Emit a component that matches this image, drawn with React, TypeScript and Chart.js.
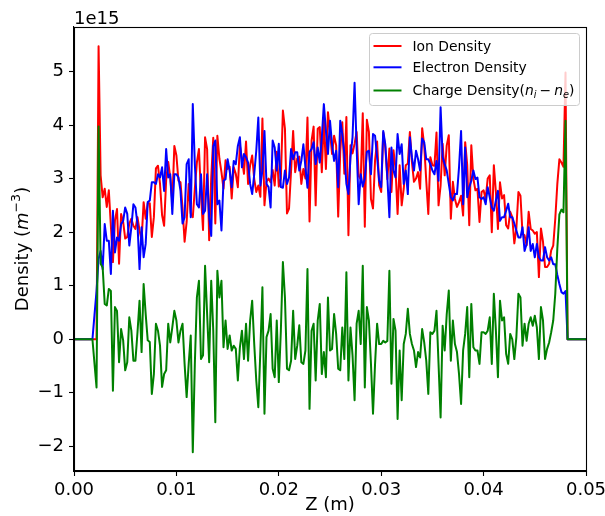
import React, { useEffect, useRef } from "react";
import { Chart, registerables } from "chart.js";

Chart.register(...registerables);

// Axial grid: cell spacing along Z (m), from Z = 0 to Z = 0.05
const Z_STEP = 0.0002;

// Densities in units of 1e15 m^-3, one value per grid node
const ION_DENSITY = [
  0, 0, 0, 0, 0, 0, 0, 0, 0, 0,
  0, 0, 5.47, 3.06, 2.65, 2.81, 2.47, 2.78, 2.12, 1.44,
  2.22, 2.43, 1.41, 2.34, 2.19, 1.88, 1.91, 2.16, 2.25, 2.12,
  2.06, 2.28, 2.03, 1.85, 2.56, 2.25, 2.54, 2.54, 1.91, 2.28,
  3.19, 3.24, 2.90, 2.32, 2.12, 2.97, 3.31, 3.02, 2.56, 3.61,
  3.43, 2.96, 2.93, 2.45, 1.82, 2.19, 2.90, 2.35, 2.28, 2.81,
  3.30, 3.55, 2.71, 2.04, 3.77, 3.55, 1.85, 3.02, 3.76, 2.16,
  3.80, 3.37, 3.12, 2.81, 3.34, 3.18, 3.22, 2.63, 3.21, 3.09,
  2.84, 3.62, 3.37, 3.09, 3.69, 2.90, 3.25, 3.43, 2.99, 2.75,
  2.87, 2.66, 4.12, 2.50, 2.94, 3.00, 2.93, 3.16, 2.87, 3.50,
  2.85, 3.00, 4.27, 3.93, 2.35, 2.44, 3.15, 3.89, 3.12, 3.37,
  3.41, 2.90, 3.18, 3.00, 4.14, 2.20, 3.71, 3.97, 2.50, 3.93,
  3.96, 3.12, 4.15, 3.18, 4.24, 3.87, 3.46, 3.80, 3.62, 2.29,
  3.50, 4.05, 3.09, 4.15, 1.94, 3.62, 3.47, 3.65, 3.87, 3.05,
  2.99, 4.22, 2.10, 4.10, 3.87, 2.62, 2.44, 3.34, 3.69, 2.87,
  2.75, 3.86, 3.58, 2.99, 3.56, 2.75, 3.53, 3.18, 2.34, 3.25,
  2.50, 2.81, 3.25, 3.28, 3.87, 3.31, 2.94, 3.00, 3.12, 2.81,
  3.94, 3.62, 2.96, 2.34, 3.40, 3.25, 3.24, 3.86, 2.50, 2.87,
  3.65, 3.06, 3.62, 3.81, 2.25, 2.94, 2.62, 2.47, 2.56, 2.68,
  2.31, 3.68, 3.25, 2.13, 3.62, 3.00, 2.78, 2.81, 2.19, 2.75,
  2.78, 2.62, 3.00, 3.06, 2.00, 3.25, 2.75, 2.06, 2.93, 2.63,
  2.69, 2.13, 2.07, 2.38, 2.28, 1.79, 2.07, 2.75, 2.68, 1.97,
  1.94, 1.75, 2.38, 2.06, 2.03, 1.97, 2.00, 1.16, 2.07, 1.82,
  1.35, 1.35, 1.41, 1.66, 1.75, 2.25, 2.90, 3.36, 3.30, 3.22,
  4.98, 0, 0, 0, 0, 0, 0, 0, 0, 0, 0,
];

const ELECTRON_DENSITY = [
  0, 0, 0, 0, 0, 0, 0, 0, 0, 0,
  0.45, 0.90, 1.50, 1.65, 1.31, 2.15, 1.84, 1.84, 1.22, 2.40,
  1.62, 1.90, 1.84, 2.15, 2.21, 2.46, 2.34, 1.75, 2.09, 2.52,
  2.46, 2.15, 1.31, 2.09, 1.53, 1.78, 2.56, 2.59, 2.93, 2.93,
  2.90, 3.08, 3.02, 3.21, 2.77, 3.55, 3.02, 3.08, 2.34, 3.08,
  3.08, 3.02, 2.77, 2.16, 2.28, 3.27, 3.36, 2.28, 4.39, 3.27,
  2.52, 2.46, 3.08, 2.34, 2.40, 3.08, 2.28, 1.93, 3.60, 3.71,
  2.52, 2.59, 2.03, 2.96, 2.99, 3.36, 3.15, 2.84, 3.33, 3.27,
  3.61, 3.77, 3.21, 3.46, 3.40, 3.30, 2.90, 2.71, 3.08, 3.52,
  4.14, 2.87, 3.15, 3.89, 2.90, 2.84, 2.46, 3.71, 3.58, 3.15,
  3.65, 2.84, 2.83, 3.15, 2.90, 3.02, 3.55, 3.36, 3.49, 3.49,
  3.15, 3.33, 3.64, 3.21, 2.83, 3.50, 3.55, 3.68, 3.27, 3.58,
  3.30, 3.77, 4.39, 3.89, 3.46, 4.08, 3.64, 3.33, 3.52, 2.84,
  4.08, 3.83, 3.46, 2.90, 2.71, 3.40, 3.77, 4.79, 3.58, 2.52,
  3.08, 2.85, 3.00, 3.50, 3.52, 3.08, 3.83, 3.80, 3.40, 2.96,
  2.84, 3.89, 3.64, 3.02, 2.28, 3.58, 3.15, 3.02, 3.83, 3.46,
  3.64, 2.90, 3.15, 2.71, 3.77, 3.40, 3.15, 3.52, 3.36, 3.15,
  3.75, 3.68, 3.36, 3.36, 3.27, 3.15, 3.08, 3.33, 2.96, 4.33,
  3.40, 3.27, 3.15, 2.90, 2.65, 2.59, 2.71, 2.71, 3.21, 3.89,
  2.52, 3.58, 2.65, 2.84, 2.96, 3.15, 2.99, 3.02, 2.65, 2.62,
  2.65, 2.52, 2.84, 2.65, 2.46, 2.40, 2.59, 2.77, 2.21, 2.28,
  2.28, 2.40, 2.53, 2.28, 2.28, 2.16, 2.03, 1.90, 1.90, 2.09,
  1.65, 1.78, 2.09, 1.65, 1.78, 1.53, 1.78, 1.53, 1.47, 1.47,
  1.72, 1.53, 1.47, 1.53, 1.40, 1.40, 1.20, 1.03, 0.88, 0.85,
  0.90, 0, 0, 0, 0, 0, 0, 0, 0, 0, 0,
];

const CHARGE_DENSITY = [
  0, 0, 0, 0, 0, 0, 0, 0, 0, 0,
  -0.45, -0.90, 3.97, 1.41, 1.34, 0.66, 0.63, 0.94, 0.90, -0.96,
  0.60, 0.53, -0.43, 0.19, -0.02, -0.58, -0.43, 0.41, 0.16, -0.40,
  -0.40, 0.13, 0.72, -0.24, 1.03, 0.47, -0.02, -0.05, -1.02, -0.65,
  0.29, 0.16, -0.12, -0.89, -0.65, -0.58, 0.29, -0.06, 0.22, 0.53,
  0.35, -0.06, 0.16, 0.29, -0.46, -1.08, -0.46, 0.07, -2.11, -0.46,
  0.78, 1.09, -0.37, -0.30, 1.37, 0.47, -0.43, 1.09, 0.16, -1.55,
  1.28, 0.78, 1.09, -0.15, 0.35, -0.18, 0.07, -0.21, -0.12, -0.18,
  -0.77, -0.15, 0.16, -0.37, 0.29, -0.40, 0.35, 0.72, -0.09, -0.77,
  -1.27, -0.21, 0.97, -1.39, 0.04, 0.16, 0.47, -0.55, -0.71, 0.35,
  -0.80, 0.16, 1.44, 0.78, -0.55, -0.58, -0.40, 0.53, -0.37, -0.12,
  0.26, -0.43, -0.46, -0.21, 1.31, -1.30, 0.16, 0.29, -0.77, 0.35,
  0.66, -0.65, -0.24, -0.71, 0.78, -0.21, -0.18, 0.47, 0.10, -0.55,
  -0.58, 0.22, -0.37, 1.25, -0.77, 0.22, -0.30, -1.14, 0.29, 0.53,
  -0.09, 1.37, -0.90, 0.60, 0.35, -0.46, -1.39, -0.46, 0.29, -0.09,
  -0.09, -0.03, -0.06, -0.03, 1.28, -0.83, 0.38, 0.16, -1.49, -0.21,
  -1.14, -0.09, 0.10, 0.57, 0.10, -0.09, -0.21, -0.52, -0.24, -0.34,
  0.19, -0.06, -0.40, -1.02, 0.13, 0.10, 0.16, 0.53, -0.46, -1.46,
  0.25, -0.21, 0.47, 0.91, -0.40, 0.35, -0.09, -0.24, -0.65, -1.21,
  -0.21, 0.10, 0.60, -0.71, 0.66, -0.15, -0.21, -0.21, -0.46, 0.13,
  0.13, 0.10, 0.16, 0.41, -0.46, 0.85, 0.16, -0.71, 0.72, 0.35,
  0.41, -0.27, -0.46, 0.10, 0.00, -0.37, 0.04, 0.85, 0.78, -0.12,
  0.29, -0.03, 0.29, 0.41, 0.25, 0.44, 0.22, -0.37, 0.60, 0.35,
  -0.37, -0.18, -0.06, 0.13, 0.35, 0.85, 1.70, 2.33, 2.42, 2.37,
  4.08, 0, 0, 0, 0, 0, 0, 0, 0, 0, 0,
];

const X_TICKS = [0, 0.01, 0.02, 0.03, 0.04, 0.05];
const Y_TICKS = [-2, -1, 0, 1, 2, 3, 4, 5];
const SERIES_LABELS = ["Ion Density", "Electron Density", "Charge Density"];
const SERIES_COLORS = ["#ff0000", "#0000ff", "#008000"];

const FONT = '"DejaVu Sans", sans-serif';
const W = 605;
const H = 516;

type Part = { t: string; italic?: boolean; scale?: number; dy?: number; gap?: number };

function setFont(ctx: CanvasRenderingContext2D, p: Part, size: number) {
  ctx.font = `${p.italic ? "italic " : ""}${size * (p.scale ?? 1)}px ${FONT}`;
}

function richWidth(ctx: CanvasRenderingContext2D, parts: Part[], size: number) {
  let w = 0;
  for (const p of parts) {
    setFont(ctx, p, size);
    w += ctx.measureText(p.t).width + (p.gap ?? 0) * size;
  }
  return w;
}

function drawRich(ctx: CanvasRenderingContext2D, parts: Part[], x: number, y: number, size: number) {
  let cx = x;
  for (const p of parts) {
    setFont(ctx, p, size);
    ctx.fillText(p.t, cx, y + (p.dy ?? 0) * size);
    cx += ctx.measureText(p.t).width + (p.gap ?? 0) * size;
  }
}

const decorPlugin = {
  id: "decor",
  afterDatasetsDraw(chart: any) {
    const { ctx, chartArea: a } = chart;
    ctx.save();
    ctx.strokeStyle = "#000";
    ctx.lineWidth = 1.1;
    ctx.strokeRect(Math.round(a.left) + 0.5, Math.round(a.top) + 0.5, Math.round(a.right - a.left), Math.round(a.bottom - a.top));
    ctx.restore();
  },
  afterDraw(chart: any) {
    const { ctx, chartArea: a } = chart;
    ctx.save();
    ctx.fillStyle = "#000";
    ctx.textBaseline = "alphabetic";
    ctx.textAlign = "left";

    // offset text
    ctx.font = `18px ${FONT}`;
    ctx.fillText("1e15", a.left, 24);

    // x label
    const xl: Part[] = [{ t: "Z (m)" }];
    const xw = richWidth(ctx, xl, 18);
    drawRich(ctx, xl, (a.left + a.right) / 2 - xw / 2, 510, 18);

    // y label (rotated)
    const yl: Part[] = [
      { t: "Density (" },
      { t: "m", italic: true },
      { t: "\u22123", scale: 0.7, dy: -0.42 },
      { t: ")" },
    ];
    const yw = richWidth(ctx, yl, 18);
    ctx.save();
    ctx.translate(28, (a.top + a.bottom) / 2);
    ctx.rotate(-Math.PI / 2);
    drawRich(ctx, yl, -yw / 2, 0, 18);
    ctx.restore();

    // legend
    const fs = 13.9;
    const bx = 369.5, by = 33.5, bw = 210, bh = 72, r = 3;
    ctx.beginPath();
    ctx.moveTo(bx + r, by);
    ctx.lineTo(bx + bw - r, by);
    ctx.arcTo(bx + bw, by, bx + bw, by + r, r);
    ctx.lineTo(bx + bw, by + bh - r);
    ctx.arcTo(bx + bw, by + bh, bx + bw - r, by + bh, r);
    ctx.lineTo(bx + r, by + bh);
    ctx.arcTo(bx, by + bh, bx, by + bh - r, r);
    ctx.lineTo(bx, by + r);
    ctx.arcTo(bx, by, bx + r, by, r);
    ctx.closePath();
    ctx.fillStyle = "rgba(255,255,255,0.8)";
    ctx.fill();
    ctx.strokeStyle = "#cccccc";
    ctx.lineWidth = 1;
    ctx.stroke();

    const handleY = [46, 67.3, 90.5];
    const baseY = [50.5, 72.2, 95];
    const labels: Part[][] = [
      [{ t: SERIES_LABELS[0] }],
      [{ t: SERIES_LABELS[1] }],
      [
        { t: SERIES_LABELS[2] + "(" },
        { t: "n", italic: true },
        { t: "i", italic: true, scale: 0.7, dy: 0.22, gap: 0.22 },
        { t: "\u2212", gap: 0.22 },
        { t: "n", italic: true },
        { t: "e", italic: true, scale: 0.7, dy: 0.22 },
        { t: ")" },
      ],
    ];
    for (let k = 0; k < 3; k++) {
      ctx.strokeStyle = SERIES_COLORS[k];
      ctx.lineWidth = 2;
      ctx.beginPath();
      ctx.moveTo(373.5, handleY[k]);
      ctx.lineTo(401.5, handleY[k]);
      ctx.stroke();
      ctx.fillStyle = "#000";
      drawRich(ctx, labels[k], 412.5, baseY[k], fs);
    }
    ctx.restore();
  },
};

export default function App() {
  const ref = useRef<HTMLCanvasElement | null>(null);

  useEffect(() => {
    const canvas = ref.current;
    if (!canvas) return;
    const toPoints = (vals: number[]) => vals.map((v, i) => ({ x: i * Z_STEP, y: v }));
    const mk = (k: number, vals: number[], order: number) => ({
      label: SERIES_LABELS[k],
      data: toPoints(vals),
      borderColor: SERIES_COLORS[k],
      backgroundColor: SERIES_COLORS[k],
      borderWidth: 2,
      pointRadius: 0,
      tension: 0,
      fill: false,
      borderJoinStyle: "round" as const,
      order,
    });
    const tickFont = { family: FONT, size: 18 };
    const chart = new Chart(canvas, {
      type: "line",
      data: {
        datasets: [mk(0, ION_DENSITY, 3), mk(1, ELECTRON_DENSITY, 2), mk(2, CHARGE_DENSITY, 1)],
      },
      options: {
        animation: false,
        responsive: false,
        devicePixelRatio: 1,
        layout: { padding: { left: 0, right: 19, top: 27, bottom: 0 } },
        plugins: { legend: { display: false }, tooltip: { enabled: false } },
        scales: {
          x: {
            type: "linear",
            min: 0,
            max: 0.05,
            afterBuildTicks: (s: any) => {
              s.ticks = X_TICKS.map((v) => ({ value: v }));
            },
            afterFit: (s: any) => {
              s.height = 45;
              s.paddingLeft = 0;
              s.paddingRight = 0;
            },
            ticks: {
              font: tickFont,
              color: "#000",
              padding: 4,
              maxRotation: 0,
              autoSkip: false,
              callback: (v: any) => Number(v).toFixed(2),
            },
            grid: { drawOnChartArea: false, drawTicks: true, tickLength: 5, color: "#000", tickWidth: 1.1 },
            border: { color: "#000", width: 1.1 },
          },
          y: {
            type: "linear",
            min: -2.46,
            max: 5.83,
            afterBuildTicks: (s: any) => {
              s.ticks = Y_TICKS.map((v) => ({ value: v }));
            },
            afterFit: (s: any) => {
              s.width = 74;
              s.paddingTop = 0;
              s.paddingBottom = 0;
            },
            ticks: {
              font: tickFont,
              color: "#000",
              padding: 5,
              autoSkip: false,
              callback: (v: any) => (Number(v) < 0 ? "\u2212" + Math.abs(Number(v)) : String(v)),
            },
            grid: { drawOnChartArea: false, drawTicks: true, tickLength: 5, color: "#000", tickWidth: 1.1 },
            border: { color: "#000", width: 1.1 },
          },
        },
      },
      plugins: [decorPlugin],
    });
    return () => chart.destroy();
  }, []);

  return (
    <div style={{ position: "absolute", left: 0, top: 0, width: W, height: H, background: "#fff" }}>
      <canvas ref={ref} width={W} height={H} style={{ display: "block", width: W, height: H }} />
    </div>
  );
}
